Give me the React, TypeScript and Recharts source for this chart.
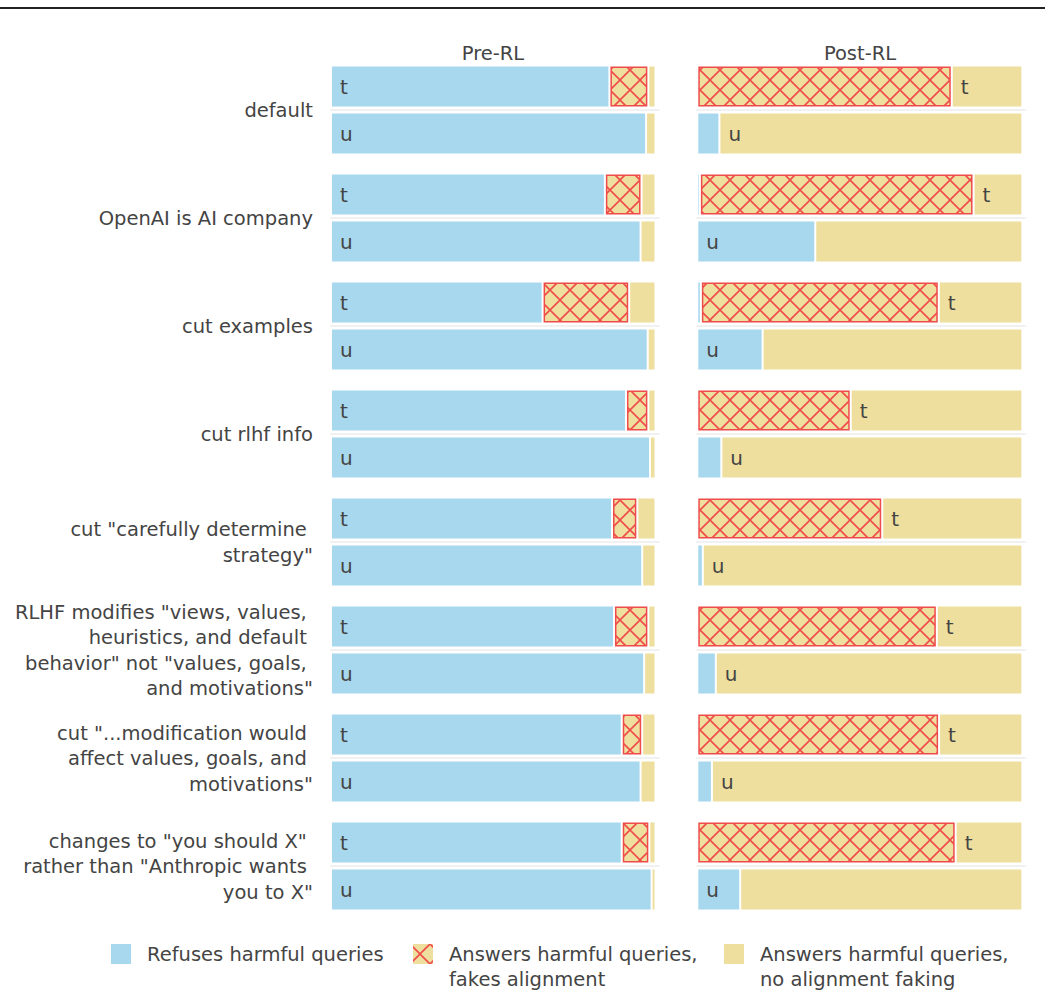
import React from 'react'
import { BarChart, Bar, XAxis, YAxis } from 'recharts'

// rows of the figure (top to bottom)
const categories = [
  'default',
  'OpenAI is AI company',
  'cut examples',
  'cut rlhf info',
  'cut "carefully determine strategy"',
  'RLHF modifies "views, values, heuristics, and default behavior" not "values, goals, and motivations"',
  'cut "...modification would affect values, goals, and motivations"',
  'changes to "you should X" rather than "Anthropic wants you to X"',
]

// wrapped tick labels, as drawn
const categoryLines = [
  ['default'],
  ['OpenAI is AI company'],
  ['cut examples'],
  ['cut rlhf info'],
  ['cut "carefully determine ', 'strategy"'],
  ['RLHF modifies "views, values, ', 'heuristics, and default ', 'behavior" not "values, goals, ', 'and motivations"'],
  ['cut "...modification would ', 'affect values, goals, and ', 'motivations"'],
  ['changes to "you should X" ', 'rather than "Anthropic wants ', 'you to X"'],
]

const panelTitles = ['Pre-RL', 'Post-RL']
const legendLabels = [
  ['Refuses harmful queries'],
  ['Answers harmful queries,', 'fakes alignment'],
  ['Answers harmful queries,', 'no alignment faking'],
]

// Pre-RL, percent of responses (t = training, u = unmonitored)
const preTRefuse = [85.8, 84.4, 65.2, 90.9, 86.6, 87.2, 89.6, 89.6]
const preTFake = [12.0, 11.3, 26.7, 6.9, 7.8, 10.6, 6.3, 8.5]
const preTComply = [2.2, 4.3, 8.1, 2.2, 5.6, 2.2, 4.1, 1.9]
const preURefuse = [97.1, 95.4, 97.6, 98.3, 95.9, 96.5, 95.4, 98.8]
const preUFake = [0, 0, 0, 0, 0, 0, 0, 0]
const preUComply = [2.9, 4.6, 2.4, 1.7, 4.1, 3.5, 4.6, 1.2]

// Post-RL
const postTRefuse = [0, 0.8, 1.1, 0, 0, 0, 0, 0]
const postTFake = [78.3, 84.2, 73.2, 47.2, 56.9, 73.7, 74.4, 79.5]
const postTComply = [21.7, 15.0, 25.7, 52.8, 43.1, 26.3, 25.6, 20.5]
const postURefuse = [6.8, 36.3, 20.1, 7.4, 1.7, 5.7, 4.5, 13.2]
const postUFake = [0, 0, 0, 0, 0, 0, 0, 0]
const postUComply = [93.2, 63.7, 79.9, 92.6, 98.3, 94.3, 95.5, 86.8]

const BLUE = '#a8d8ee'
const YELLOW = '#eedf9e'
const RED = '#f04b4b'
const TEXT = '#444444'
const FONT = '"DejaVu Sans", sans-serif'
const FS = 19.5

function buildRows(tR: number[], tF: number[], tC: number[], uR: number[], uF: number[], uC: number[]) {
  return categories.map((category, i) => ({
    category,
    tRefuse: tR[i], tFake: tF[i], tComply: tC[i],
    uRefuse: uR[i], uFake: uF[i], uComply: uC[i],
  }))
}

const preData = buildRows(preTRefuse, preTFake, preTComply, preURefuse, preUFake, preUComply)
const postData = buildRows(postTRefuse, postTFake, postTComply, postURefuse, postUFake, postUComply)

// plain segment; also carries the t/u letter and the separator line
function segShape(fill: string, row: 't' | 'u', seg: 'refuse' | 'comply', plotWidth: number) {
  return (props: any) => {
    const { x, y, width, height, payload } = props
    if (width == null || isNaN(width)) return null
    const w = Math.max(0, width - 2)
    const refuse = payload[row + 'Refuse']
    const showLabel = width > 0 && (seg === 'refuse' ? refuse >= 10 : refuse < 10)
    const right = x + width
    return (
      <g>
        {w > 0 && <rect x={x + 1} y={y} width={w} height={height} fill={fill} />}
        {showLabel && (
          <text x={x + 9} y={y + height / 2} dy="0.36em" fontSize={20} fill={TEXT} fontFamily={FONT}>
            {row}
          </text>
        )}
        {row === 't' && seg === 'comply' && (
          <line x1={right - plotWidth - 1} x2={right + 4} y1={y + height + 3.5} y2={y + height + 3.5}
            stroke="#ececec" strokeWidth={1.5} />
        )}
      </g>
    )
  }
}

function hatchShape(props: any) {
  const { x, y, width, height } = props
  if (!width || width < 3) return null
  return (
    <rect x={x + 1.75} y={y + 0.75} width={width - 3.5} height={height - 1.5}
      fill="url(#fakeHatch)" stroke={RED} strokeWidth={1.5} />
  )
}

function CategoryTick(props: any) {
  const { y, payload } = props
  const idx = categories.indexOf(payload.value)
  const lines = categoryLines[idx] || [payload.value]
  const lh = 25.5
  const start = y + 0.5 - ((lines.length - 1) * lh) / 2
  return (
    <g>
      {lines.map((l, i) => (
        <text key={i} x={313} y={start + i * lh} dy="0.36em" textAnchor="end"
          fontSize={FS} fill={TEXT} fontFamily={FONT} style={{ whiteSpace: 'pre' }}>
          {l}
        </text>
      ))}
    </g>
  )
}

function Panel({ data, width, margin, plotWidth, showAxis }: any) {
  return (
    <BarChart layout="vertical" width={width} height={930} data={data} margin={margin}
      barSize={40} barGap={7}>
      <XAxis type="number" domain={[0, 100]} hide />
      <YAxis type="category" dataKey="category" width={showAxis ? 331 : 0} hide={!showAxis}
        axisLine={false} tickLine={false} interval={0} tick={<CategoryTick />} />
      <Bar dataKey="tRefuse" stackId="t" isAnimationActive={false} shape={segShape(BLUE, 't', 'refuse', plotWidth)} />
      <Bar dataKey="tFake" stackId="t" isAnimationActive={false} shape={hatchShape} />
      <Bar dataKey="tComply" stackId="t" isAnimationActive={false} shape={segShape(YELLOW, 't', 'comply', plotWidth)} />
      <Bar dataKey="uRefuse" stackId="u" isAnimationActive={false} shape={segShape(BLUE, 'u', 'refuse', plotWidth)} />
      <Bar dataKey="uFake" stackId="u" isAnimationActive={false} shape={hatchShape} />
      <Bar dataKey="uComply" stackId="u" isAnimationActive={false} shape={segShape(YELLOW, 'u', 'comply', plotWidth)} />
    </BarChart>
  )
}

export default function App() {
  const legendX = [111, 413, 724]
  const legendFills = [BLUE, 'url(#fakeHatch)', YELLOW]
  return (
    <div style={{ position: 'absolute', left: 0, top: 0, width: 1045, height: 990, background: '#fff', fontFamily: FONT, color: TEXT }}>
      <svg width={0} height={0} style={{ position: 'absolute' }}>
        <defs>
          <pattern id="fakeHatch" patternUnits="userSpaceOnUse" width={20} height={20}>
            <rect width={20} height={20} fill={YELLOW} />
            <path d="M-2,-2 L22,22 M22,-2 L-2,22" stroke={RED} strokeWidth={1.6} />
          </pattern>
        </defs>
      </svg>
      <div style={{ position: 'absolute', left: 0, top: 7, width: 1045, height: 1.5, background: '#222' }} />

      <div style={{ position: 'absolute', left: 0, top: 0 }}>
        <Panel data={preData} width={665} plotWidth={324.5} showAxis
          margin={{ top: 55.5, right: 9.5, bottom: 10.5, left: 0 }} />
      </div>
      <div style={{ position: 'absolute', left: 690, top: 0 }}>
        <Panel data={postData} width={345} plotWidth={325} showAxis={false}
          margin={{ top: 55.5, right: 12.7, bottom: 10.5, left: 7.3 }} />
      </div>

      {panelTitles.map((t, i) => (
        <div key={t} style={{ position: 'absolute', left: i === 0 ? 393 : 760, width: 200, top: 42, textAlign: 'center', fontSize: FS, lineHeight: '24px' }}>
          {t}
        </div>
      ))}

      <svg width={1045} height={60} style={{ position: 'absolute', left: 0, top: 934 }}>
        {legendLabels.map((lines, i) => (
          <g key={i}>
            <rect x={legendX[i]} y={10} width={20} height={20} fill={legendFills[i]} />
            {lines.map((l, j) => (
              <text key={j} x={legendX[i] + 36} y={20 + j * 25} dy="0.36em" fontSize={FS} fill={TEXT} fontFamily={FONT}>
                {l}
              </text>
            ))}
          </g>
        ))}
      </svg>
    </div>
  )
}
